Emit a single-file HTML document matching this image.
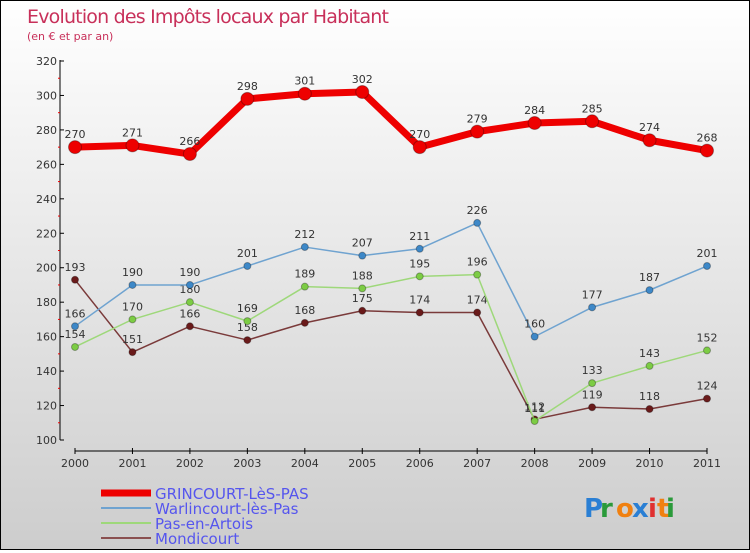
<!DOCTYPE html>
<html><head><meta charset="utf-8"><style>
body{margin:0}
#c{width:748px;height:548px;border:1px solid #000;background:linear-gradient(#fff,#f0f0f0 30%,#cdcdcd);position:relative;font-family:"DejaVu Sans","Liberation Sans",sans-serif}
</style></head><body>
<div id="c">
<svg width="748" height="548" id="s"></svg>
</div>
<script>
const years=["2000","2001","2002","2003","2004","2005","2006","2007","2008","2009","2010","2011"];
const grincourt=[270,271,266,298,301,302,270,279,284,285,274,268];
const warlincourt=[166,190,190,201,212,207,211,226,160,177,187,201];
const pas=[154,170,180,169,189,188,195,196,111,133,143,152];
const mondicourt=[193,151,166,158,168,175,174,174,112,119,118,124];
const yTicks=[100,120,140,160,180,200,220,240,260,280,300,320];
const ns="http://www.w3.org/2000/svg";
const s=document.getElementById('s');
function x(i){return 74+i*(706-74)/11;}
function y(v){return 439-(v-100)*(379/220);}
function el(t,a,txt){const e=document.createElementNS(ns,t);for(const k in a)e.setAttribute(k,a[k]);if(txt!==undefined)e.textContent=txt;s.appendChild(e);return e;}
let t=el('text',{x:26,y:22,fill:'#c8305a','font-size':19,textLength:362},'Evolution des Impôts locaux par Habitant');

t=el('text',{x:26,y:39,fill:'#c8305a','font-size':11},'(en € et par an)');

// y axis
t=el('line',{x1:59,y1:59,x2:59,y2:439,stroke:'#000'});

yTicks.forEach((v,i)=>{
 el('line',{x1:59,x2:63,y1:y(v),y2:y(v),stroke:'#000'});
 const lb=el('text',{x:56,y:y(v)+4,'text-anchor':'end','font-size':11,fill:'#333'},String(v));
 
 if(i<yTicks.length-1)el('line',{x1:57,x2:59,y1:y(v+10),y2:y(v+10),stroke:'#e00'});
});
// x axis
t=el('line',{x1:74,y1:450,x2:706,y2:450,stroke:'#000'});

years.forEach((yr,i)=>{
 el('line',{x1:x(i),x2:x(i),y1:447,y2:453,stroke:'#000'});
 const lb=el('text',{x:x(i),y:466,'text-anchor':'middle','font-size':11,fill:'#333'},yr);
 
});
function series(d,col,dot,w,r,name){
 const p=el('polyline',{points:d.map((v,i)=>x(i)+','+y(v)).join(' '),fill:'none',stroke:col,'stroke-width':w,'stroke-linejoin':'round'});
 
 d.forEach((v,i)=>{
  const c=el('circle',{cx:x(i),cy:y(v),r:r,fill:dot,stroke:'rgba(0,0,0,0.3)'});
  
  const l=el('text',{x:x(i),y:y(v)-9,'text-anchor':'middle','font-size':11,fill:'#333'},String(v));
  
 });
}
series(mondicourt,'#7a3a3a','#6a1a1a',1.5,3.5,'mondicourt');
series(pas,'#9ed87a','#7ccc44',1.5,3.5,'pas-en-artois');
series(warlincourt,'#6fa3d0','#3d88c8',1.5,3.5,'warlincourt');
series(grincourt,'#ee0000','#ee0000',7,6.5,'grincourt');
// legend
const leg=[['GRINCOURT-LèS-PAS','#ee0000',7],['Warlincourt-lès-Pas','#6fa3d0',2],['Pas-en-Artois','#9ed87a',2],['Mondicourt','#8a5050',2]];
leg.forEach((l,i)=>{
 const yy=492+i*15;
 const ln=el('line',{x1:100,x2:150,y1:yy,y2:yy,stroke:l[1],'stroke-width':l[2]});
 
 const tx=el('text',{x:154,y:yy+6,'font-size':15,fill:'#5555ee'},l[0]);
 
});
const px=[['P','#2a7fd4'],['r','#2a9a3a'],['o','#f08010'],['x','#2a7fd4'],['i','#e03030'],['t','#f08010'],['i','#2a9a3a']];
let xx=583;
px.forEach(p=>{const tx=el('text',{x:xx,y:516,'font-size':26,fill:p[1],'font-weight':'bold'},p[0]);xx+= p[0]==='i'||p[0]==='t'?9:16;});
</script>
</body></html>
